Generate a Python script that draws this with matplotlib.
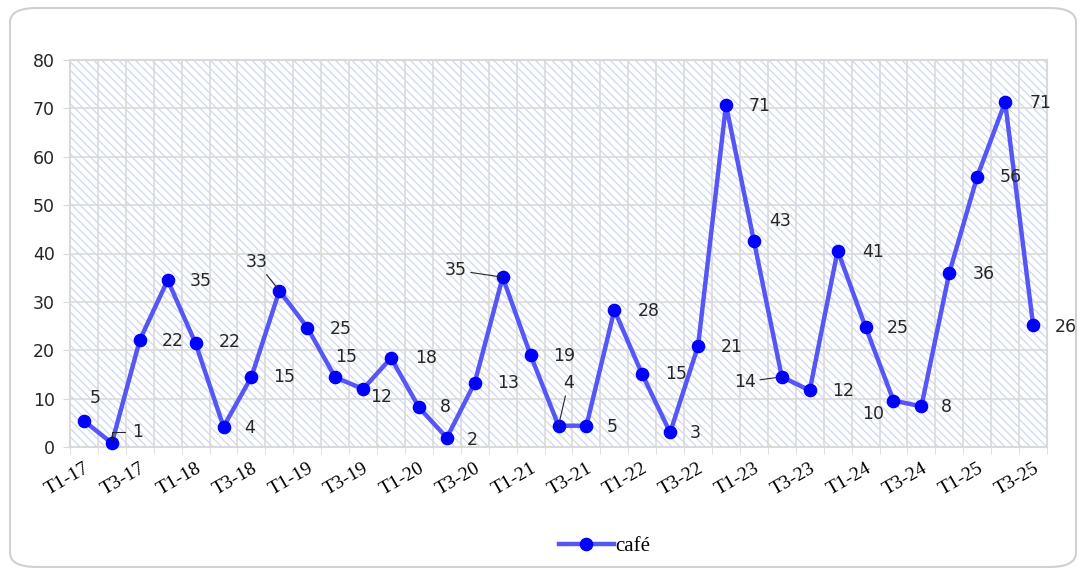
import matplotlib
matplotlib.use("Agg")
import matplotlib.pyplot as plt
import numpy as np
from matplotlib.patches import Rectangle, FancyBboxPatch

# ---- data ----
categories = [f"T{q}-{y}" for y in range(17, 26) for q in (1, 2, 3, 4)][:35]
values = [5.4, 0.8, 22.1, 34.5, 21.4, 4.2, 14.5, 32.3, 24.7, 14.4, 12.0, 18.4,
          8.2, 1.9, 13.3, 35.1, 19.0, 4.4, 4.4, 28.3, 15.0, 3.0, 20.9, 70.7,
          42.6, 14.5, 11.7, 40.6, 24.8, 9.6, 8.4, 36.0, 55.9, 71.3, 25.3]
labels = [5, 1, 22, 35, 22, 4, 15, 33, 25, 15, 12, 18, 8, 2, 13, 35, 19, 4, 5,
          28, 15, 3, 21, 71, 43, 14, 12, 41, 25, 10, 8, 36, 56, 71, 26]
series_name = "café"
yticks = [0, 10, 20, 30, 40, 50, 60, 70, 80]

# label offsets in pixels (dx, dy) and whether a leader line is drawn
offsets = [(11, 23), (26, 11), (33, -1), (33, -1), (34, 1), (26, -1), (33, 0),
           (-23, 29), (33, -1), (11, 20), (18, -8), (35, 0), (26, 0), (25, -2),
           (33, 0), (-47, 7), (34, -1), (10, 43), (26, -1), (34, -1), (34, 0),
           (25, -1), (34, -1), (34, -1), (26, 20), (-37, -5), (33, -1), (35, -1),
           (32, -1), (-20, -13), (25, -1), (34, -1), (34, 0), (35, -1), (33, -2)]
leaders = {1, 7, 15, 17, 25}

W, H = 1082, 570
plt.rcParams['hatch.linewidth'] = 0.9
fig = plt.figure(figsize=(W / 100, H / 100), dpi=100)
fig.patch.set_facecolor("white")

# outer rounded frame
frame = FancyBboxPatch((10 / W, 3 / H), 1066 / W, 559 / H,
                       boxstyle="round,pad=0,rounding_size=0.025",
                       transform=fig.transFigure, facecolor="none",
                       edgecolor="#d0d0d0", linewidth=1.5)
fig.patches.append(frame)

left, right, top, bottom = 70, 1047, 60, 447
ax = fig.add_axes([left / W, 1 - bottom / H, (right - left) / W, (bottom - top) / H])
x = np.arange(len(values))

# hatched background
bg = Rectangle((0, 0), 1, 1, transform=ax.transAxes, facecolor="white",
               edgecolor="#cdd8f3", hatch="\\" * 4, linewidth=0, zorder=0.1)
ax.add_patch(bg)

ax.set_xlim(-0.5, len(values) - 0.5)
ax.set_ylim(0, 80)
ax.set_yticks(yticks)
ax.set_xticks(x[::2])
ax.set_xticklabels(categories[::2], rotation=30, ha="right",
                   rotation_mode="anchor", family="Liberation Serif", fontsize=14)
ax.set_xticks(np.arange(-0.5, len(values), 1), minor=True)
ax.tick_params(axis="x", which="major", length=0, pad=9)
ax.tick_params(axis="x", which="minor", length=5, color="#d9d9d9")
ax.tick_params(axis="y", length=5, color="#d9d9d9", labelsize=12.5,
               labelcolor="#262626", pad=6)
for lab in ax.get_yticklabels():
    lab.set_family("DejaVu Sans")

ax.grid(axis="y", which="major", color="#dadada", linewidth=1.2, zorder=0.5)
ax.grid(axis="x", which="minor", color="#dadada", linewidth=1.2, zorder=0.5)
ax.set_axisbelow(True)
for s in ax.spines.values():
    s.set_color("#d9d9d9")
    s.set_linewidth(1.5)

ax.plot(x, values, color="#5656f6", linewidth=3.2, marker="o", markersize=8.8,
        markerfacecolor="#0000ff", markeredgecolor="#0000ff", label=series_name,
        zorder=3, clip_on=False)

for i, (v, lab) in enumerate(zip(values, labels)):
    dx, dy = offsets[i]
    ap = None
    if i in leaders:
        ap = dict(arrowstyle="-", color="#262626", linewidth=0.8,
                  shrinkA=1, shrinkB=0)
        if i == 1:
            ap = dict(arrowstyle="-", color="#262626", linewidth=0.8,
                      shrinkA=3, shrinkB=2,
                      connectionstyle="angle,angleA=180,angleB=90,rad=0")
    ax.annotate(str(lab), (i, v), xytext=(dx, dy), textcoords="offset pixels",
                ha="center", va="center", fontsize=12.5, color="#262626",
                family="DejaVu Sans", arrowprops=ap, zorder=4)

fig.legend(loc="center", bbox_to_anchor=(605 / W, 1 - 546 / H), frameon=False,
           prop={"family": "Liberation Serif", "size": 15}, handlelength=2.6,
           handletextpad=0.1)

fig.savefig("out.png", dpi=100)
